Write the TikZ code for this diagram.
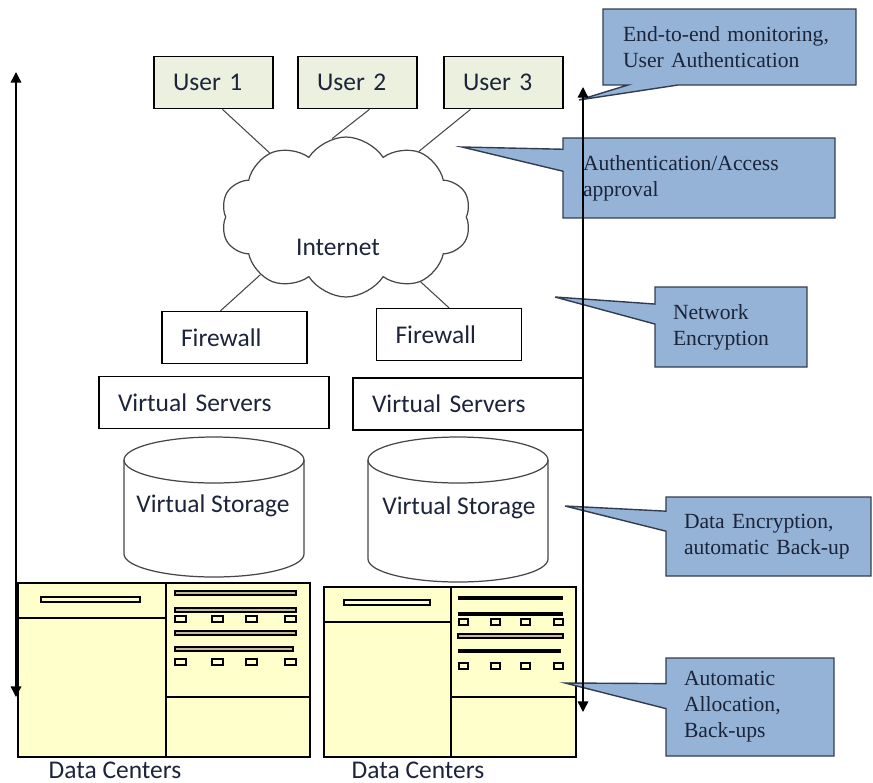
\documentclass[tikz,border=0pt]{standalone}
\usepackage{fontspec}
\setmainfont{Liberation Serif}
\newfontfamily\labelfont{Carlito}
\usetikzlibrary{shapes.symbols,shapes.callouts,arrows.meta}

\definecolor{userfill}{RGB}{235,241,222}
\definecolor{dcfill}{RGB}{255,255,204}
\definecolor{notefill}{RGB}{149,179,215}
\definecolor{noteline}{RGB}{50,60,80}
\definecolor{bartan}{RGB}{196,189,151}
\definecolor{inkblue}{RGB}{28,36,58}
\definecolor{wire}{RGB}{70,70,70}

\tikzset{
  tbox/.style={draw, line width=0.8pt, inner xsep=0.38cm, inner ysep=0pt,
    minimum height=1.04cm, align=left, text width=#1, text=inkblue,
    font=\labelfont\fontsize{14.5}{17}\selectfont},
  user/.style={tbox=1.62cm, fill=userfill, line width=1pt},
  note/.style={rectangle callout, draw=noteline, line width=0.8pt, fill=notefill,
    inner ysep=0pt, align=left, text=inkblue, font=\fontsize{12.3}{14.8}\selectfont},
  wire/.style={draw=wire, line width=0.6pt},
  dcline/.style={draw=black, line width=0.7pt},
  bigarrow/.style={line width=0.8pt, {Triangle[length=6pt,width=6pt]}-{Triangle[length=6pt,width=6pt]}}
}

\begin{document}
\begin{tikzpicture}[x=0.02cm, y=-0.02cm]
    \useasboundingbox (0,0) rectangle (873,782);
    % Users
    \node[user] (u1) at (213.5,82.5) {User 1};
    \node[user] (u2) at (357.5,82.5) {User 2};
    \node[user] (u3) at (503.5,82.5) {User 3};
    % Internet cloud
    \node[cloud, draw=wire, line width=0.7pt, cloud puffs=10, cloud puff arc=115,
      aspect=1.6, minimum width=5.0cm, minimum height=3.2cm, inner sep=0pt] (net) at (346,217) {};
    \node[text=inkblue, font=\labelfont\fontsize{14.5}{17}\selectfont] (nettext) at (338,247) {Internet};
    % Firewalls and servers
    \node[tbox=2.14cm] (fw1) at (234.5,337.5) {Firewall};
    \node[tbox=2.14cm] (fw2) at (449,334.5) {Firewall};
    \node[tbox=3.84cm] (vs1) at (214,402.5) {Virtual Servers};
    \node[tbox=3.84cm] (vs2) at (468,404) {Virtual Servers};
    % Edges
    \draw[wire] ([xshift=0.18cm]u1.south) -- (net.140);
    \draw[wire] ([xshift=0.24cm]u2.south) -- (net.100);
    \draw[wire] ([xshift=-0.66cm]u3.south) -- (net.42);
    \draw[wire] (net.214) -- ([xshift=-0.28cm]fw1.north);
    \draw[wire] (net.319) -- (fw2.north);
    % Storage
    \foreach \cx/\cy/\n in {214/554/1, 458/559/2} {
      \draw[draw=wire, line width=0.7pt, fill=white] (\cx-90,460) -- (\cx-90,\cy)
        arc[start angle=180, end angle=0, x radius=90, y radius=23] -- (\cx+90,460);
      \draw[draw=wire, line width=0.7pt] (\cx,460) ellipse[x radius=90, y radius=23];
    }
    \node[text=inkblue, font=\labelfont\fontsize{14.5}{17}\selectfont] (st1) at (213,506) {Virtual Storage};
    \node[text=inkblue, font=\labelfont\fontsize{14.5}{17}\selectfont] (st2) at (459,508) {Virtual Storage};
    % Data centre 1
    \draw[dcline, fill=dcfill] (18,583) rectangle (310,757);
    \draw[dcline] (166,583) -- (166,757) (18,618) -- (166,618) (166,697) -- (310,697);
    \draw[dcline, fill=dcfill] (41,597) rectangle (140,602);
    \foreach \y in {591,608,631} \draw[dcline, fill=bartan] (175,\y) rectangle (296,\y+4);
    \draw[dcline, fill=bartan] (175,647) rectangle (293,651);
    \foreach \x in {175,212,246,285} \foreach \y in {616,659}
      \draw[dcline, fill=dcfill] (\x,\y) rectangle +(11,6);
    % Data centre 2
    \draw[dcline, fill=dcfill] (324,587) rectangle (576,757);
    \draw[dcline] (451,587) -- (451,757) (324,622) -- (451,622) (451,697) -- (576,697);
    \draw[dcline, fill=dcfill] (344,600) rectangle (430,605);
    \draw[line width=2pt] (458,598) -- (563,598) (458,614) -- (563,614) (458,651) -- (561,651);
    \draw[dcline, fill=bartan] (458,634) rectangle (563,638);
    \foreach \x in {459,491,521,554} \foreach \y in {619,663}
      \draw[dcline, fill=dcfill] (\x,\y) rectangle +(9,6);
    \node[text=inkblue, font=\labelfont\fontsize{14.5}{17}\selectfont] (dc1) at (115,770) {Data Centers};
    \node[text=inkblue, font=\labelfont\fontsize{14.5}{17}\selectfont] (dc2) at (418,770) {Data Centers};
    % Notes
    \node[note, minimum width=5.06cm, minimum height=1.52cm, text width=4.26cm,
      callout absolute pointer={(579,100)}, callout pointer width=1.0cm] (n1) at (729.5,47)
      {End-to-end monitoring,\\User Authentication};
    \node[note, minimum width=5.44cm, minimum height=1.6cm, text width=4.64cm,
      callout absolute pointer={(462,147)}, callout pointer width=0.44cm] (n2) at (699,178)
      {Authentication/Access\\approval};
    \node[note, minimum width=3.04cm, minimum height=1.6cm, text width=2.32cm,
      callout absolute pointer={(555,297)}, callout pointer width=0.4cm] (n3) at (731,327)
      {Network\\Encryption};
    \node[note, minimum width=4.1cm, minimum height=1.58cm, text width=3.38cm,
      callout absolute pointer={(565,506)}, callout pointer width=0.4cm] (n4) at (768.5,536.5)
      {Data Encryption,\\automatic Back-up};
    \node[note, minimum width=3.36cm, minimum height=1.96cm, text width=2.64cm,
      callout absolute pointer={(565,683)}, callout pointer width=0.5cm] (n5) at (750,707)
      {Automatic\\Allocation,\\Back-ups};
    % Scope arrows
    \coordinate (ltop) at (16,72);
    \coordinate (lbot) at (16,697);
    \coordinate (rtop) at (583,87);
    \coordinate (rbot) at (583,712);
    \draw[bigarrow] (ltop) -- (lbot);
    \draw[bigarrow] (rtop) -- (rbot);
\end{tikzpicture}
\end{document}
